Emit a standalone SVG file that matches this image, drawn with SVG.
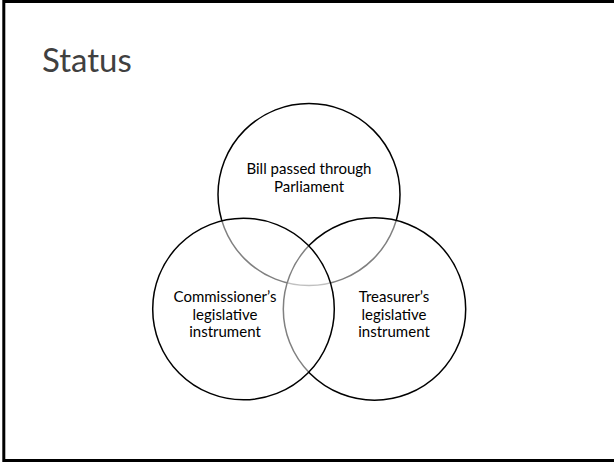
<svg xmlns="http://www.w3.org/2000/svg" width="614" height="462" viewBox="0 0 614 462">
  <style>
    .frame { fill: none; stroke: #000; stroke-width: 3; }
    .title { font-family: Lato, "Open Sans", "Liberation Sans", sans-serif; font-size: 33px; fill: #404040; }
    .set { fill: #fff; fill-opacity: 0.5; stroke: #000; stroke-width: 1.5; }
    .label { font-family: Lato, "Open Sans", "Liberation Sans", sans-serif; font-size: 15px; fill: #000; text-anchor: middle; }
  </style>
  <rect width="614" height="462" fill="#fff"/>
  <!-- slide edge: top, left and bottom -->
  <path class="frame" d="M614 1.5 H3.8 V460.5 H614"/>
  <text class="title" x="42" y="72">Status</text>

  <!-- drawing order: top, right, left; half-white fills grey out lines underneath -->
  <g id="bill">
    <circle class="set" cx="309" cy="194.5" r="91"/>
    <text class="label" x="309" y="174">Bill passed through</text>
    <text class="label" x="309" y="192">Parliament</text>
  </g>
  <g id="treasurer">
    <circle class="set" cx="374.5" cy="309" r="91.2"/>
    <text class="label" x="394" y="302">Treasurer’s</text>
    <text class="label" x="394" y="319.5">legislative</text>
    <text class="label" x="394" y="337">instrument</text>
  </g>
  <g id="commissioner">
    <circle class="set" cx="243.5" cy="309" r="90.8"/>
    <text class="label" x="225" y="302">Commissioner’s</text>
    <text class="label" x="225" y="319.5">legislative</text>
    <text class="label" x="225" y="337">instrument</text>
  </g>
</svg>
